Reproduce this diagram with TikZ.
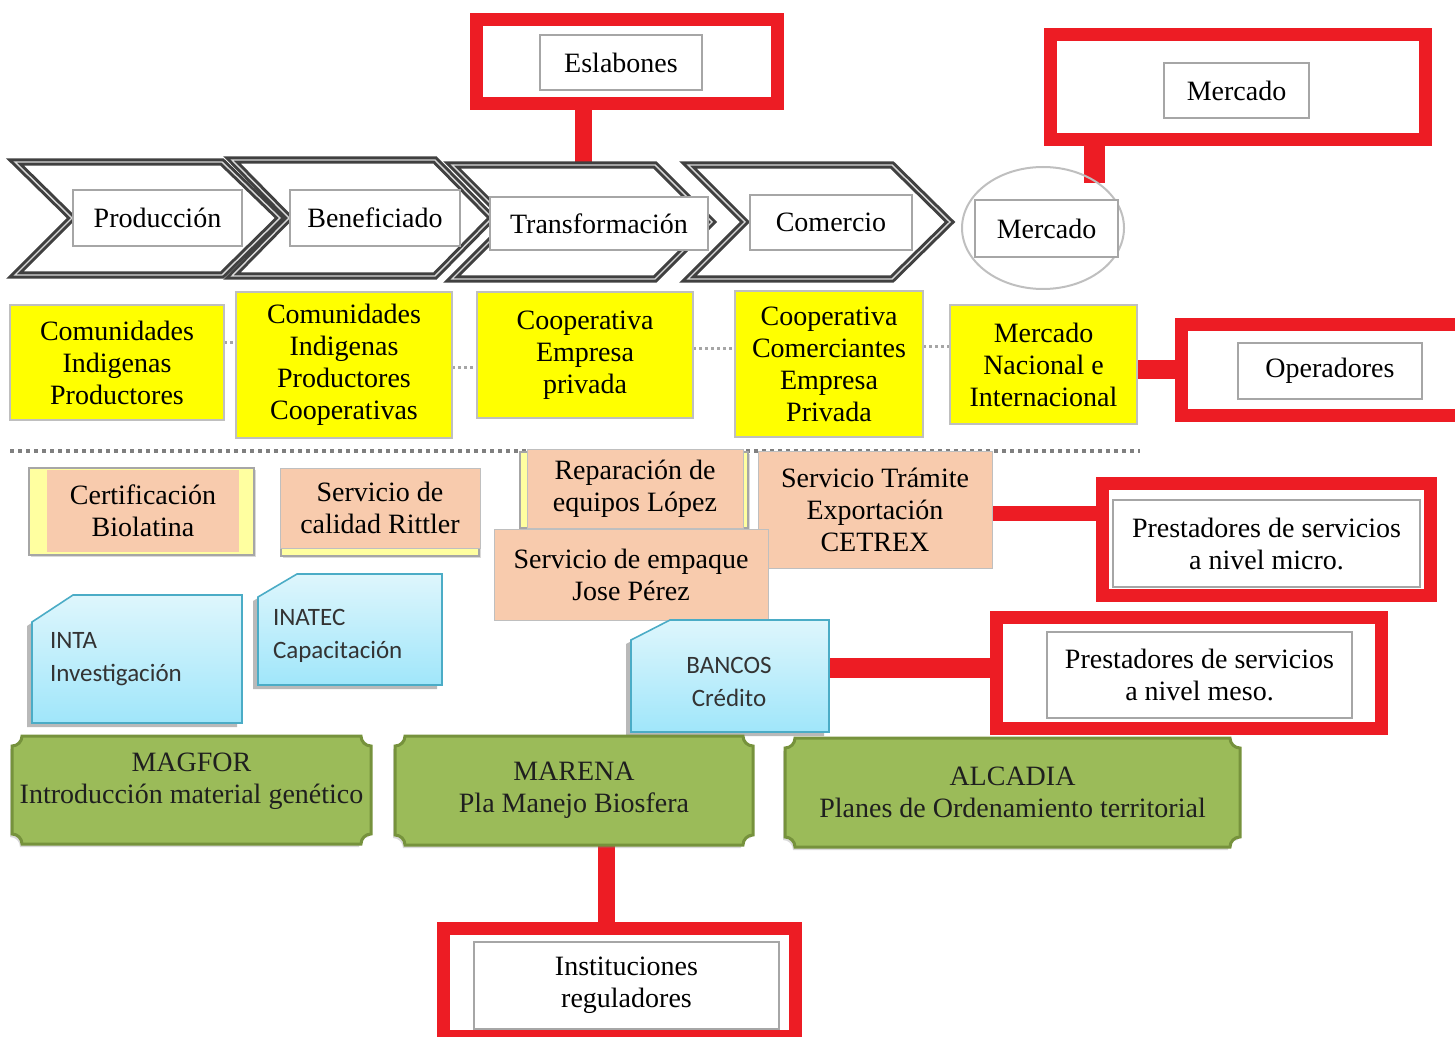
\documentclass[tikz,border=0pt]{standalone}
\usepackage{fontspec}
\setmainfont{Liberation Serif}
\newfontfamily\timesfont{Liberation Serif}
\newfontfamily\calibfont{Carlito}
\usetikzlibrary{calc,shadows,shapes.geometric}

\definecolor{chevgray}{RGB}{64,64,64}
\definecolor{boxgray}{RGB}{166,166,166}
\definecolor{framered}{RGB}{237,28,36}
\definecolor{chainyellow}{RGB}{255,255,0}
\definecolor{lightborder}{RGB}{191,191,191}
\definecolor{peach}{RGB}{248,203,173}
\definecolor{paleyellow}{RGB}{255,255,160}
\definecolor{bluetop}{RGB}{222,246,252}
\definecolor{bluebottom}{RGB}{160,230,250}
\definecolor{blueborder}{RGB}{75,172,198}
\definecolor{olive}{RGB}{155,187,89}
\definecolor{oliveborder}{RGB}{118,146,60}
\definecolor{sepgray}{RGB}{128,128,128}

\pgfdeclarelayer{background}
\pgfsetlayers{background,main}

\tikzset{
  px/.style 2 args={minimum width={#1*0.5pt}, minimum height={#2*0.5pt}},
  base/.style={inner sep=0pt, outer sep=0pt, align=center,
    font=\timesfont\fontsize{14}{16}\selectfont},
  labelbox/.style={base, draw=boxgray, line width=0.75pt, fill=white},
  redframe/.style={base, draw=framered, line width=6.5pt, fill=white},
  redlink/.style={draw=framered, line width={#1*0.5pt}},
  chevron/.style={draw=chevgray, line width=1.5pt, double=white!85!black,
    double distance=0.7pt, fill=white, line join=miter},
  yellowbox/.style={base, fill=chainyellow, draw=lightborder, line width=0.6pt},
  ydots/.style={draw=sepgray!70, line width=1.5pt, dash pattern=on 1.5pt off 1.5pt},
  sepline/.style={draw=sepgray, line width=2pt, dash pattern=on 2pt off 2pt},
  peachbox/.style={base, fill=peach, draw=lightborder, line width=0.5pt},
  strip/.style={fill=paleyellow, draw=boxgray, line width=0.6pt,
    drop shadow={shadow xshift=0.8pt, shadow yshift=-1pt, opacity=0.3}},
  snipped/.style={draw=blueborder, line width=0.8pt, top color=bluetop,
    bottom color=bluebottom,
    drop shadow={shadow xshift=-2.5pt, shadow yshift=-2pt, opacity=0.55}},
  bluetext/.style={inner sep=0pt, outer sep=0pt, align=left,
    font=\calibfont\fontsize{12.5}{16.5}\selectfont, text={black!80}},
  plaquebox/.style={fill=olive, draw=oliveborder, line width=1.5pt,
    drop shadow={shadow xshift=-1pt, shadow yshift=-1.5pt, opacity=0.3}},
  greentext/.style={base, text={black!88}},
  hollow/.style={inner sep=0pt, outer sep=0pt},
}

% box with its top-left corner cut off
\newcommand\snipbox[6]{%
  \draw[snipped] ({#1+#5},#2) -- (#3,#2) -- (#3,#4) -- (#1,#4)
    -- (#1,{#2+#6}) -- cycle;}
% plaque with concave corners
\newcommand\plaque[4]{%
  \draw[plaquebox] (#1,{#2+10}) arc[start angle=-90,end angle=0,radius=5pt]
    -- ({#3-10},#2) arc[start angle=180,end angle=270,radius=5pt]
    -- (#3,{#4-10}) arc[start angle=90,end angle=180,radius=5pt]
    -- ({#1+10},#4) arc[start angle=0,end angle=90,radius=5pt] -- cycle;}

\begin{document}
\begin{tikzpicture}[x=0.5pt,y=-0.5pt]
\useasboundingbox (0,0) rectangle (1455,1037);
\clip (0,0) rectangle (1455,1037);

% ---- chain links (chevrons) ----
\draw[chevron] (15,162) -- (222,162) -- (280,218) -- (222,275) -- (15,275) -- (72,218) -- cycle;
\draw[chevron] (232,160) -- (435,160) -- (492,218) -- (435,276) -- (232,276) -- (289,218) -- cycle;
\draw[chevron] (452,165) -- (655,165) -- (712,222) -- (655,279) -- (452,279) -- (509,222) -- cycle;
\draw[chevron] (688,165) -- (892,165) -- (950,222) -- (892,279) -- (688,279) -- (745,222) -- cycle;
\node[hollow, draw=lightborder, line width=1pt, ellipse, px={162}{122}] (mcirc) at (1043,228) {};

\node[labelbox, px={169}{56}] (prod) at (157.5,218) {Producción};
\node[labelbox, px={170}{56}] (benef) at (375,218) {Beneficiado};
\node[labelbox, px={218}{53}] (transf) at (599,223.5) {Transformación};
\node[labelbox, px={162}{55}] (comer) at (831,222.5) {Comercio};
\node[labelbox, px={143}{57}] (merc) at (1046.5,228.5) {Mercado};
\coordinate (c3top) at (583,166);
\coordinate (mtouch) at (1094,183);

% ---- red category frames ----
\node[redframe, px={301}{84}] (eslF) at (627,61.5) {};
\node[labelbox, px={162}{55}] (eslabones) at (621,62.5) {Eslabones};
\node[redframe, px={375}{105}] (mercF) at (1238,87) {};
\node[labelbox, px={145}{55}] (mercadotop) at (1236.5,90.5) {Mercado};
\node[redframe, px={282}{91}] (operF) at (1322.5,370) {};
\node[labelbox, px={184}{56}] (operadores) at (1330,371) {Operadores};
\node[redframe, px={328}{112}] (microF) at (1266.5,539.5) {};
\node[labelbox, px={307}{87}] (micro) at (1266.5,543.5) {Prestadores de servicios\\a nivel micro.};
\node[redframe, px={385}{111}] (mesoF) at (1189,673) {};
\node[labelbox, px={305}{86}] (meso) at (1199.5,675) {Prestadores de servicios\\a nivel meso.};
\node[redframe, px={352}{108}] (instF) at (619.5,982.5) {};
\node[labelbox, px={305}{87}] (inst) at (626.5,985.5) {Instituciones\\reguladores};

% ---- chain actors ----
\node[yellowbox, px={214}{115}] (yel1) at (117,362.5) {Comunidades\\Indigenas\\Productores};
\node[yellowbox, px={216}{146}] (yel2) at (344,365) {Comunidades\\Indigenas\\Productores\\Cooperativas};
\node[yellowbox, px={216}{126}] (yel3) at (585,355) {Cooperativa\\Empresa\\privada};
\node[yellowbox, px={188}{146}] (yel4) at (829,364) {Cooperativa\\Comerciantes\\Empresa\\Privada};
\node[yellowbox, px={187}{119}] (yel5) at (1043.5,364.5) {Mercado\\Nacional e\\Internacional};

% ---- micro service providers ----
\draw[strip] (29,468) rectangle (254,555);
\node[peachbox, draw=none, px={192}{82}] (cert) at (143,511) {Certificación\\Biolatina};
\draw[strip] (281,470) rectangle (479,556);
\node[peachbox, px={200}{80}] (rittler) at (380,508) {Servicio de\\calidad Rittler};
\draw[strip] (520,452) rectangle (748,528);
\node[peachbox, px={216}{79}] (lopez) at (635,488.5) {Reparación de\\equipos López};
\node[peachbox, px={234}{117}] (cetrex) at (875,509.5) {Servicio Trámite\\Exportación\\CETREX};
\node[peachbox, px={274}{91}] (empaque) at (631,574.5) {Servicio de empaque\\Jose Pérez};

% ---- meso service providers ----
\snipbox{32}{595}{242}{723}{41}{27}
\node[hollow, px={210}{128}] (inta) at (137,659) {};
\node[bluetext, anchor=west] (intatext) at (50,659.5) {INTA\\Investigación};
\snipbox{258}{574}{442}{685}{39}{23}
\node[hollow, px={184}{111}] (inatec) at (350,629.5) {};
\node[bluetext, anchor=west] (inatectext) at (273,636) {INATEC\\Capacitación};
\snipbox{631}{620}{829}{732}{39}{20}
\node[hollow, px={198}{112}] (bancos) at (730,676) {};
\node[bluetext, align=center] (bancostext) at (729,681.5) {BANCOS\\Crédito};

% ---- regulating institutions ----
\plaque{12}{736}{371}{844}
\node[greentext, px={359}{108}, yshift=4.5pt] (magfor) at (191.5,790) {MAGFOR\\Introducción material genético};
\plaque{395}{736}{753}{845}
\node[greentext, px={358}{109}] (marena) at (574,790.5) {MARENA\\Pla Manejo Biosfera};
\plaque{785}{738}{1240}{847}
\node[greentext, px={455}{109}] (alcadia) at (1012.5,792.5) {ALCADIA\\Planes de Ordenamiento territorial};

% ---- links drawn underneath ----
\begin{pgfonlayer}{background}
  \draw[sepline] (10,451) -- (1140,451);
  \draw[ydots] (yel1.east |- 0,343) -- (yel2.west |- 0,343);
  \draw[ydots] (yel2.east |- 0,368) -- (yel3.west |- 0,368);
  \draw[ydots] (yel3.east |- 0,349) -- (yel4.west |- 0,349);
  \draw[ydots] (yel4.east |- 0,347) -- (yel5.west |- 0,347);
  \draw[redlink=17] (eslF.south -| c3top) -- (c3top);
  \draw[redlink=21] (mercF.south -| mtouch) -- (mtouch);
  \draw[redlink=19] (yel5.east |- operF.west) -- (operF.west);
  \draw[redlink=15] (cetrex.east |- 0,513) -- (microF.west |- 0,513);
  \draw[redlink=20] (bancos.east |- 0,668) -- (mesoF.west |- 0,668);
  \draw[redlink=17] (marena.south -| 606,0) -- (instF.north -| 606,0);
\end{pgfonlayer}
\end{tikzpicture}
\end{document}
